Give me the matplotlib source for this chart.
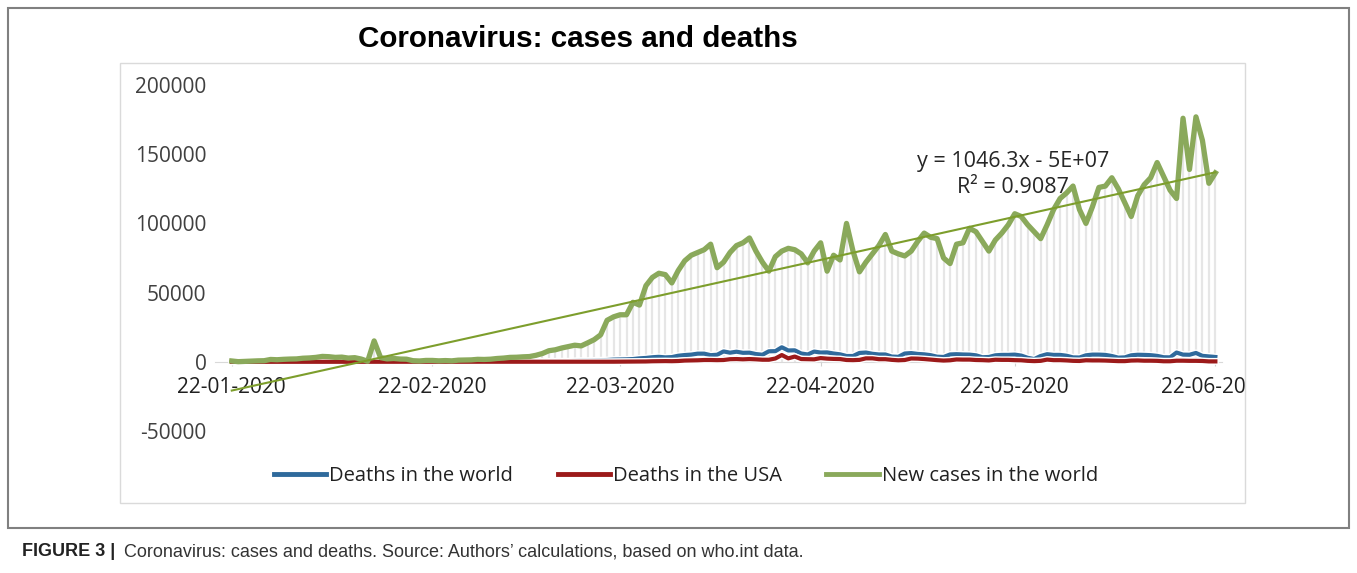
import matplotlib
matplotlib.use('Agg')
import matplotlib.pyplot as plt
import matplotlib.dates as mdates
import matplotlib.patheffects as pe
from matplotlib.patches import Rectangle
from matplotlib.lines import Line2D
from matplotlib.transforms import Bbox, TransformedBbox
import numpy as np
import pandas as pd

plt.rcParams['font.family'] = ['Open Sans', 'DejaVu Sans']

# daily values, 22-01-2020 onwards
new_cases = [
    600, 100, 300, 500, 700, 800, 1700, 1500, 1800, 2000,
    2100, 2600, 2800, 3200, 3900, 3700, 3200, 3400, 2700, 3000,
    2000, 400, 15100, 3000, 2100, 2400, 2000, 1900, 800, 600,
    1000, 1000, 700, 900, 700, 1200, 1300, 1400, 1800, 1700,
    1900, 2400, 2700, 3200, 3300, 3600, 3800, 4700, 6000, 8000,
    8700, 10000, 11000, 12000, 11500, 13700, 16000, 19500, 30000, 32500,
    34000, 34000, 43000, 41000, 55000, 61000, 64000, 63000, 57000, 66000,
    73000, 77000, 79000, 81000, 85000, 68000, 72000, 79000, 84000, 86000,
    89500, 80000, 72000, 65500, 76000, 80000, 82000, 81000, 78000, 71500,
    80000, 86000, 65500, 77000, 73600, 100000, 80000, 65000, 72000, 78000,
    84000, 92000, 80000, 78000, 76500, 80000, 87000, 93000, 90000, 89000,
    75000, 71000, 85000, 86000, 96500, 94000, 87000, 80000, 88000, 93000,
    99000, 107000, 105000, 99000, 94000, 89000, 99000, 110000, 118000, 122000,
    127000, 110000, 100000, 112000, 126000, 127000, 133000, 125000, 115000, 105000,
    120000, 128000, 133000, 144000, 134000, 124000, 118000, 176000, 139000, 177000,
    160000, 129000, 136500,
]

deaths_world = [
    17, 8, 16, 15, 24, 26, 26, 38, 43, 46,
    45, 57, 64, 66, 73, 73, 86, 89, 97, 108,
    97, 254, 13, 143, 142, 106, 98, 136, 115, 118,
    109, 97, 150, 71, 52, 29, 44, 37, 35, 42,
    31, 38, 31, 50, 60, 80, 100, 110, 200, 270,
    350, 450, 420, 700, 850, 850, 1000, 1100, 1300, 1600,
    1700, 1800, 2000, 2500, 2800, 3300, 3600, 3200, 3400, 4400,
    4900, 5200, 5900, 5900, 4800, 5100, 7500, 6600, 7300, 6500,
    6600, 5600, 5100, 7600, 7700, 10500, 8200, 8300, 6000, 5300,
    7400, 6700, 6800, 6000, 5400, 4200, 4200, 6400, 6700, 5800,
    5300, 5300, 3800, 3600, 6000, 6300, 5700, 5400, 4800, 3700,
    3500, 5300, 5500, 5300, 5200, 4700, 3300, 3500, 4700, 5000,
    5000, 5200, 4500, 2900, 2000, 4200, 5500, 5000, 5000, 4400,
    3200, 3100, 4700, 5200, 5200, 5000, 4200, 3000, 3200, 4700,
    5100, 5000, 4800, 4300, 3300, 3200, 6700, 5200, 5100, 6400,
    4300, 3900, 3500,
]

deaths_usa = [
    0, 0, 0, 0, 0, 0, 0, 0, 0, 0,
    0, 0, 0, 0, 0, 0, 0, 0, 0, 0,
    0, 0, 0, 0, 0, 0, 0, 0, 0, 0,
    0, 0, 0, 0, 0, 0, 0, 0, 0, 0,
    1, 2, 3, 2, 5, 3, 4, 5, 8, 10,
    10, 12, 10, 15, 20, 25, 40, 50, 60, 80,
    100, 130, 160, 220, 250, 400, 450, 520, 450, 580,
    900, 1000, 1100, 1300, 1300, 1200, 1300, 1900, 2000, 1800,
    2000, 1800, 1500, 1500, 2400, 4900, 2500, 3800, 2000, 1900,
    1800, 2700, 2300, 2100, 2000, 1300, 1200, 1400, 2500, 2500,
    1900, 1900, 1400, 1100, 1300, 2400, 2300, 2000, 1600, 1200,
    900, 1100, 1700, 1600, 1600, 1300, 1200, 1000, 1500, 1400,
    1400, 1200, 1100, 700, 500, 700, 1600, 1200, 1200, 1000,
    700, 600, 1100, 1000, 1000, 900, 700, 500, 500, 900,
    1000, 800, 800, 700, 400, 400, 800, 800, 700, 700,
    600, 300, 300,
]

series_labels = ['Deaths in the world', 'Deaths in the USA', 'New cases in the world']
y_ticks = [-50000, 0, 50000, 100000, 150000, 200000]
trend_text = ['y = 1046.3x - 5E+07', 'R² = 0.9087']

dates = pd.date_range('2020-01-22', periods=len(new_cases))
x = mdates.date2num(dates)

BLUE = '#2f6a9c'
RED = '#9c1a1a'
GREEN = '#8aa95b'
TREND = '#7d9e2c'

fig = plt.figure(figsize=(13.57, 5.73), dpi=100)
ax = fig.add_axes([0.1584, 0.2478, 0.742, 0.6038])

# drop lines
ax.vlines(dates, 0, new_cases, colors='#e6e6e6', linewidth=1.6, zorder=1)

halo = [pe.Stroke(linewidth=5, foreground='white'), pe.Normal()]
ax.plot(dates, deaths_world, color=BLUE, lw=3, zorder=3, path_effects=halo)
ax.plot(dates, deaths_usa, color=RED, lw=3, zorder=3, path_effects=halo)
ax.plot(dates, new_cases, color=GREEN, lw=3.8, zorder=4, solid_joinstyle='round')

coef = np.polyfit(x, new_cases, 1)
ax.plot(dates, np.polyval(coef, x), color=TREND, lw=1.5, zorder=5)

ax.set_ylim(-50000, 200000)
ax.set_xlim(x[0] - 2.6, x[0] + 153)
ax.set_yticks(y_ticks)
ax.set_yticklabels([str(v) for v in y_ticks])
ax.xaxis.set_major_locator(mdates.DayLocator(bymonthday=22))
ax.xaxis.set_major_formatter(mdates.DateFormatter('%d-%m-%Y'))

for s in ['left', 'right', 'top']:
    ax.spines[s].set_visible(False)
ax.spines['bottom'].set_position(('data', 0))
ax.spines['bottom'].set_color('#d9d9d9')
ax.spines['bottom'].set_zorder(0)
ax.tick_params(axis='y', length=0, pad=6, labelsize=15, labelcolor='#404040')
ax.tick_params(axis='x', length=3, color='#d0d0d0', pad=8, labelsize=15, labelcolor='#202020')

for i, t in enumerate(trend_text):
    ax.text(0.7925, 0.778 - i * 0.074, t, transform=ax.transAxes, ha='center', va='center',
            fontsize=15.5, color='#262626')

# frames
fig.add_artist(Rectangle((0.006, 0.079), 0.988, 0.907, transform=fig.transFigure,
                         fill=False, ec='#808080', lw=1.5))
fig.add_artist(Rectangle((0.0884, 0.122), 0.829, 0.768, transform=fig.transFigure,
                         fill=False, ec='#dadada', lw=1))

# clip last date label at inner frame
clip = TransformedBbox(Bbox([[0.0884, 0.122], [0.9175, 0.89]]), fig.transFigure)
fig.canvas.draw()
for lbl in ax.get_xticklabels():
    lbl.set_clip_box(clip)
    lbl.set_clip_on(True)

fig.text(0.426, 0.932, 'Coronavirus: cases and deaths', ha='center', va='center',
         fontsize=21.3, fontweight='bold', family=['Liberation Sans', 'DejaVu Sans'])

handles = [Line2D([], [], color=c, lw=3.5) for c in (BLUE, RED, GREEN)]
fig.legend(handles, series_labels, loc='center', bbox_to_anchor=(0.5055, 0.170), ncol=3,
           frameon=False, fontsize=14.5, handlelength=2.6, handletextpad=0.15,
           columnspacing=2.2, labelcolor='#202020')

fig.text(22 / 1357, 1 - 552 / 573, 'FIGURE 3 |', ha='left', va='center', fontsize=13,
         fontweight='bold', family=['Liberation Sans', 'DejaVu Sans'], color='#222222')
fig.text(124 / 1357, 1 - 552 / 573,
         "Coronavirus: cases and deaths. Source: Authors\u2019 calculations, based on who.int data.",
         ha='left', va='center', fontsize=13, family=['Liberation Sans', 'DejaVu Sans'],
         color='#333333')

fig.savefig('out.png', dpi=100)
